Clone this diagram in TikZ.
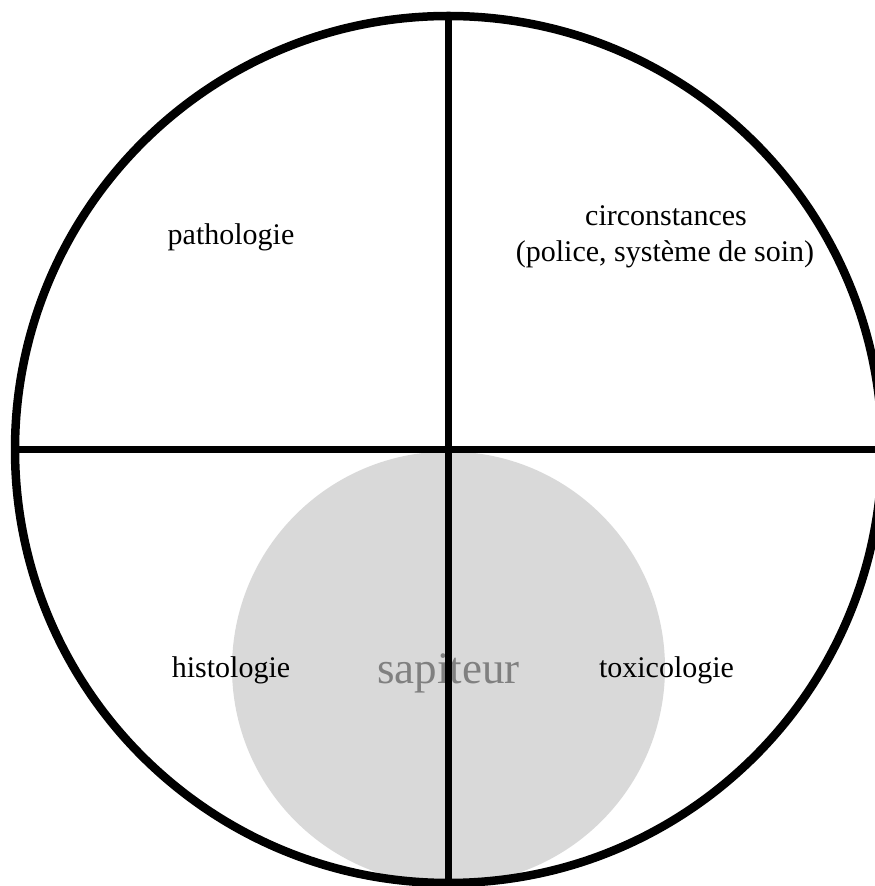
\documentclass[tikz,border=0pt]{standalone}
\usepackage{fontspec}
\setmainfont{Liberation Serif}
\definecolor{sapfill}{HTML}{D9D9D9}
\definecolor{saptext}{HTML}{808080}
\begin{document}
\begin{tikzpicture}[x=1pt,y=1pt,
  lbl/.style={font=\fontsize{30}{36}\selectfont, inner sep=0pt, anchor=base, text=black},
  saplbl/.style={font=\fontsize{45}{54}\selectfont, inner sep=0pt, anchor=base, text=saptext},
  outer/.style={draw=black, line width=8.5pt},
  divider/.style={draw=black, line width=7.5pt},
  sapdisk/.style={fill=sapfill}]
\useasboundingbox (0,0) rectangle (875,886);
% gray disk
\path[sapdisk] (448.5,218) circle (216.5);
\node[saplbl] (sap) at (448.5,202) {sapiteur};
% big circle
\coordinate (C) at (448.5,436.5);
\draw[outer] (C) circle (433.5);
% dividers
\coordinate (T) at (448.5,870);
\coordinate (B) at (448.5,3);
\coordinate (L) at (15,436.5);
\coordinate (R) at (885,436.5);
\draw[divider] (T) -- (B);
\draw[divider] (L) -- (R);
% labels
\node[lbl] (path) at (231,641) {pathologie};
\node[lbl] (circ1) at (666,660) {circonstances};
\node[lbl] (circ2) at (665,624) {(police, système de soin)};
\node[lbl] (hist) at (231,208) {histologie};
\node[lbl] (tox) at (666.5,208) {toxicologie};
\end{tikzpicture}
\end{document}
